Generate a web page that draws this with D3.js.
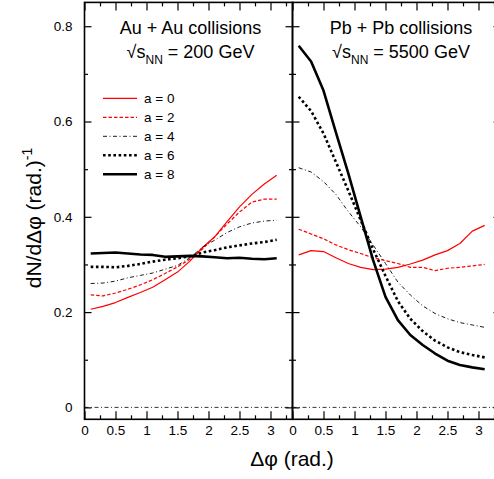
<!DOCTYPE html>
<html><head><meta charset="utf-8">
<script src="https://cdn.jsdelivr.net/npm/d3@7"></script>
<style>
html,body{margin:0;padding:0;background:#fff;}
svg{display:block;font-family:"Liberation Sans",Arial,sans-serif;}
</style></head>
<body><svg id="c" width="494" height="479"></svg>
<script>
const dphi = [0.1,0.3,0.5,0.7,0.9,1.1,1.3,1.5,1.7,1.9,2.1,2.3,2.5,2.7,2.9,3.1];

const auA0 = [0.206,0.212,0.220,0.231,0.241,0.252,0.268,0.284,0.307,0.335,0.358,0.390,0.421,0.447,0.469,0.487];
const auA2 = [0.236,0.234,0.240,0.248,0.257,0.268,0.281,0.295,0.311,0.332,0.358,0.385,0.410,0.431,0.437,0.437];
const auA4 = [0.260,0.261,0.265,0.272,0.277,0.282,0.290,0.298,0.314,0.336,0.351,0.367,0.379,0.387,0.391,0.393];
const auA6 = [0.295,0.295,0.294,0.297,0.301,0.306,0.310,0.313,0.317,0.325,0.330,0.336,0.340,0.344,0.347,0.352];
const auA8 = [0.323,0.324,0.325,0.323,0.321,0.320,0.316,0.317,0.318,0.317,0.315,0.313,0.314,0.312,0.311,0.313];

const pbA0 = [0.320,0.329,0.327,0.314,0.302,0.294,0.289,0.290,0.294,0.301,0.309,0.320,0.329,0.344,0.370,0.382];
const pbA2 = [0.374,0.364,0.354,0.341,0.331,0.323,0.314,0.308,0.302,0.294,0.294,0.287,0.292,0.294,0.297,0.300];
const pbA4 = [0.503,0.494,0.474,0.447,0.411,0.379,0.341,0.302,0.263,0.236,0.213,0.197,0.186,0.178,0.173,0.168];
const pbA6 = [0.652,0.622,0.575,0.515,0.455,0.393,0.332,0.276,0.223,0.186,0.160,0.140,0.126,0.116,0.110,0.105];
const pbA8 = [0.759,0.726,0.665,0.577,0.491,0.400,0.309,0.232,0.183,0.152,0.131,0.113,0.098,0.089,0.084,0.080];

const legendLabels = ["a = 0","a = 2","a = 4","a = 6","a = 8"];
const xTickVals = [0,0.5,1,1.5,2,2.5,3];
const xMinorVals = [0.25,0.75,1.25,1.75,2.25,2.75,3.25];
const yTickVals = [0,0.2,0.4,0.6,0.8];
const yMinorVals = [0.1,0.3,0.5,0.7];

const styles = [
  {stroke:"#ff0000", width:1.2, dash:null},
  {stroke:"#ff0000", width:1.2, dash:"3.5,2"},
  {stroke:"#000", width:0.9, dash:"4,2.5,1,2.5"},
  {stroke:"#000", width:2.6, dash:"2.6,2.6"},
  {stroke:"#000", width:2.6, dash:null}
];

const panels = [
  {x0:84.5, x1:292.5, series:[auA0,auA2,auA4,auA6,auA8], title:"Au + Au collisions", energy:"200", cx:190.5},
  {x0:292.5, x1:500.5, series:[pbA0,pbA2,pbA4,pbA6,pbA8], title:"Pb + Pb collisions", energy:"5500", cx:401}
];

const svg = d3.select("#c");
const yTop = 2.4, yBot = 419.3;
const y = d3.scaleLinear().domain([-0.025,0.85]).range([yBot,yTop]);

panels.forEach((p,pi)=>{
  const x = d3.scaleLinear().domain([0,3.355]).range([p.x0,p.x1]);
  // zero line
  svg.append("line").attr("x1",p.x0).attr("x2",p.x1).attr("y1",y(0)).attr("y2",y(0))
    .attr("stroke","#000").attr("stroke-width",0.8).attr("stroke-dasharray","4,2.5,1,2.5");
  // curves
  const line = d3.line().x((d,i)=>x(dphi[i])).y(d=>y(d));
  p.series.forEach((s,si)=>{
    const st = styles[si];
    svg.append("path").datum(s).attr("d",line).attr("fill","none")
      .attr("stroke",st.stroke).attr("stroke-width",st.width)
      .attr("stroke-dasharray",st.dash).attr("stroke-linejoin","round");
  });
  // axes
  const bot = svg.append("g").attr("transform",`translate(0,${yBot})`)
    .call(d3.axisBottom(x).tickValues(xTickVals).tickSize(-8).tickPadding(6).tickFormat(d3.format("")));
  svg.append("g").attr("transform",`translate(0,${yBot})`)
    .call(d3.axisBottom(x).tickValues(xMinorVals).tickSize(-4).tickFormat(""));
  svg.append("g").attr("transform",`translate(0,${yTop})`)
    .call(d3.axisTop(x).tickValues(xTickVals).tickSize(-8).tickFormat(""));
  svg.append("g").attr("transform",`translate(0,${yTop})`)
    .call(d3.axisTop(x).tickValues(xMinorVals).tickSize(-4).tickFormat(""));
  const left = svg.append("g").attr("transform",`translate(${p.x0},0)`)
    .call(d3.axisLeft(y).tickValues(yTickVals).tickSize(-7).tickPadding(12).tickFormat(d3.format("")));
  if(pi>0) left.selectAll("text").remove();
  svg.append("g").attr("transform",`translate(${p.x0},0)`)
    .call(d3.axisLeft(y).tickValues(yMinorVals).tickSize(-3.5).tickFormat(""));
  svg.append("g").attr("transform",`translate(${p.x1},0)`)
    .call(d3.axisRight(y).tickValues(yTickVals).tickSize(-7).tickFormat(""));
  svg.append("g").attr("transform",`translate(${p.x1},0)`)
    .call(d3.axisRight(y).tickValues(yMinorVals).tickSize(-3.5).tickFormat(""));
  // frame
  svg.append("rect").attr("x",p.x0).attr("y",yTop).attr("width",p.x1-p.x0).attr("height",yBot-yTop)
    .attr("fill","none").attr("stroke","#000").attr("stroke-width",1.6);
  // titles
  svg.append("text").attr("x",p.cx).attr("y",34).attr("text-anchor","middle")
    .attr("font-size",18).attr("fill","#000").text(p.title);
  const t2 = svg.append("text").attr("x",p.cx).attr("y",57.5).attr("text-anchor","middle")
    .attr("font-size",18).attr("fill","#000");
  t2.append("tspan").text("\u221As");
  t2.append("tspan").attr("dy",6).attr("font-size",12).text("NN");
  t2.append("tspan").attr("dy",-6).text(` = ${p.energy} GeV`);
});

svg.selectAll(".domain").remove();
svg.selectAll(".tick line").attr("stroke","#000").attr("stroke-width",1.2);
svg.selectAll(".tick text").attr("font-size",13.5).attr("fill","#000")
  .attr("font-family","Liberation Sans, Arial, sans-serif");

// legend
const lg = svg.append("g");
legendLabels.forEach((lab,i)=>{
  const yy = 98.3 + i*19;
  const st = styles[i];
  lg.append("line").attr("x1",103).attr("x2",137).attr("y1",yy).attr("y2",yy)
    .attr("stroke",st.stroke).attr("stroke-width",st.width).attr("stroke-dasharray",st.dash);
  lg.append("text").attr("x",144).attr("y",yy+4.6).attr("font-size",13.5).attr("fill","#000").text(lab);
});

// axis titles
svg.append("text").attr("x",292).attr("y",466).attr("text-anchor","middle")
  .attr("font-size",21).attr("fill","#000").text("\u0394\u03C6 (rad.)");
const yt = svg.append("text").attr("transform","translate(41,218) rotate(-90)")
  .attr("text-anchor","middle").attr("font-size",21).attr("fill","#000");
yt.append("tspan").text("dN/d\u0394\u03C6 (rad.)");
yt.append("tspan").attr("dy",-9).attr("font-size",14).text("-1");
</script></body></html>
